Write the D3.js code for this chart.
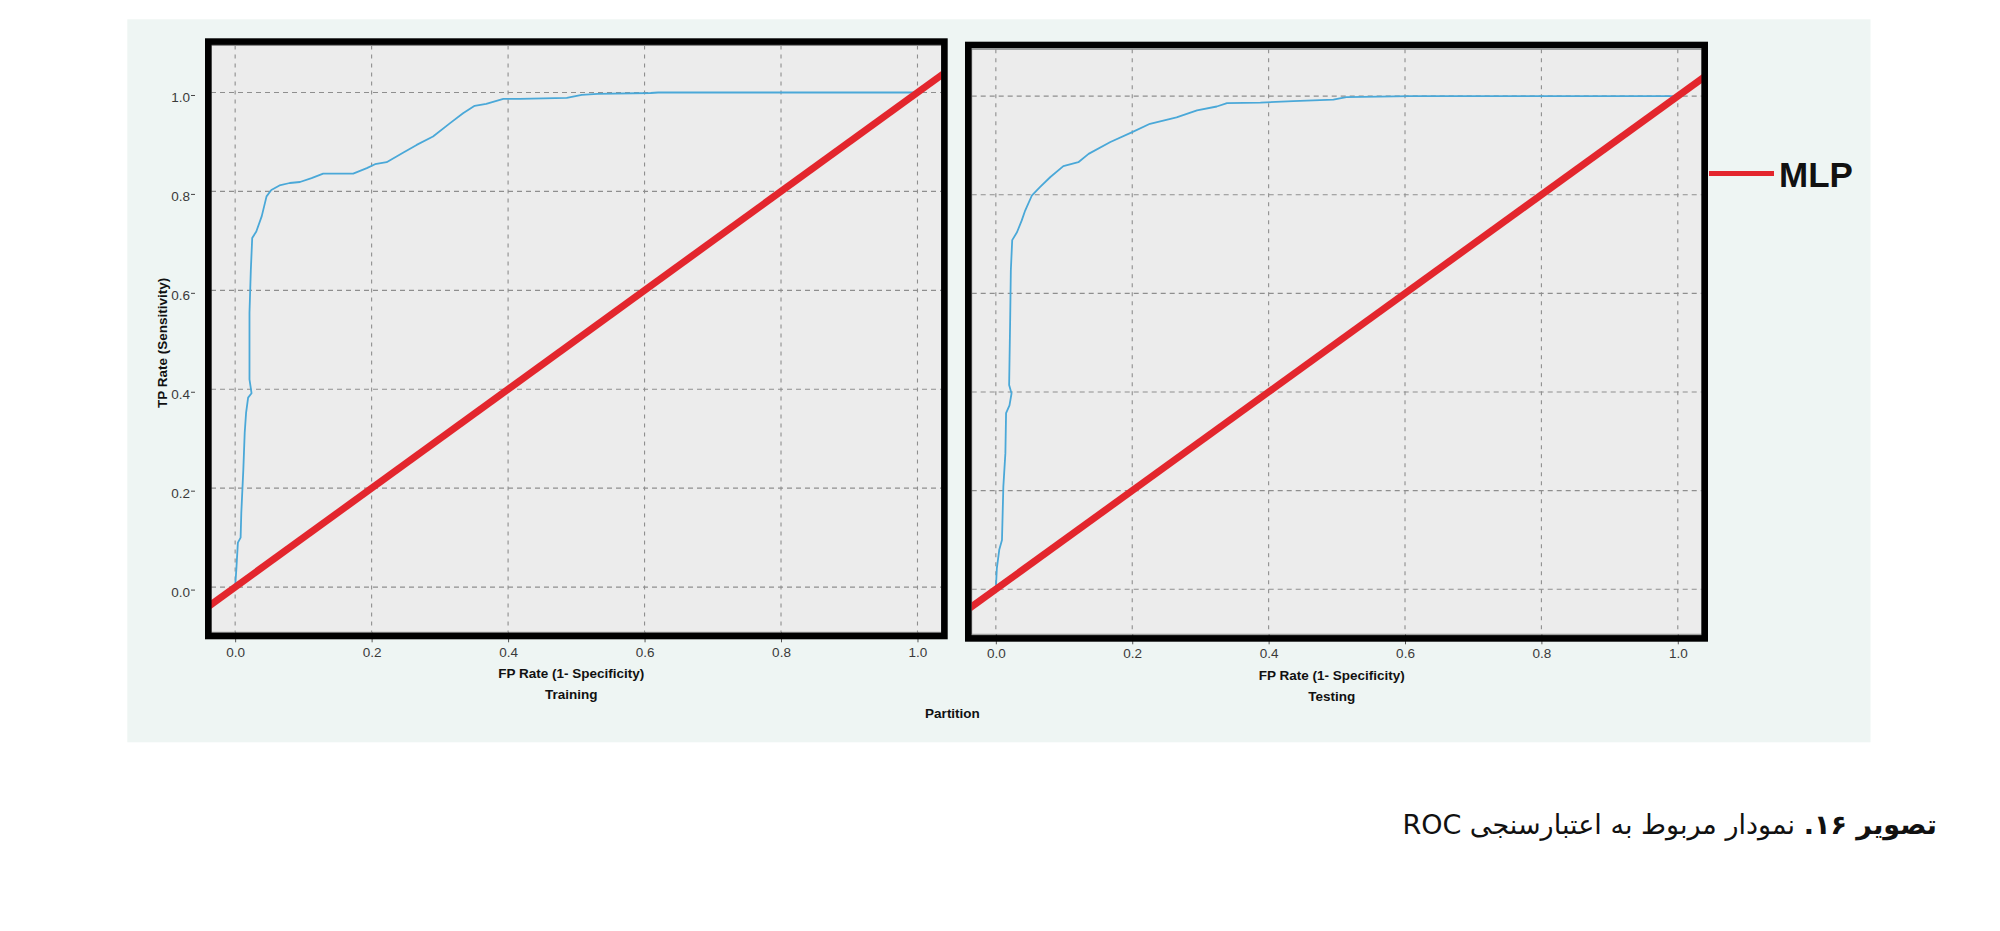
<!DOCTYPE html>
<html>
<head>
<meta charset="utf-8">
<script src="https://cdn.jsdelivr.net/npm/d3@7"></script>
<style>
  html, body { margin: 0; padding: 0; background: #ffffff; }
  svg { display: block; }
</style>
</head>
<body>
<svg id="chart" width="2000" height="931"></svg>
<script>
// ---------------- data ----------------
const tickValues = [0, 0.2, 0.4, 0.6, 0.8, 1.0];
const panelNames = ["Training", "Testing"];
const xAxisTitle = "FP Rate (1- Specificity)";
const yAxisTitle = "TP Rate (Sensitivity)";
const groupTitle = "Partition";
const legendLabel = "MLP";
const captionBold = "تصویر ۱۶.";
const captionRest = " نمودار مربوط به اعتبارسنجی ROC";

// ROC curve points [FP rate, TP rate]
const trainingCurve = [
  [0,0],[0.002,0.042],[0.004,0.09],[0.008,0.10],[0.009,0.15],[0.012,0.238],[0.014,0.312],
  [0.016,0.352],[0.019,0.383],[0.024,0.392],[0.021,0.42],[0.021,0.554],[0.023,0.642],
  [0.025,0.706],[0.031,0.719],[0.039,0.75],[0.046,0.79],[0.053,0.803],[0.065,0.812],
  [0.080,0.817],[0.095,0.819],[0.112,0.827],[0.129,0.836],[0.173,0.836],[0.193,0.847],
  [0.205,0.855],[0.222,0.859],[0.246,0.878],[0.266,0.894],[0.290,0.911],[0.315,0.938],
  [0.334,0.958],[0.351,0.973],[0.368,0.977],[0.393,0.987],[0.417,0.987],[0.486,0.989],
  [0.508,0.995],[0.531,0.997],[0.609,0.999],[0.62,1.0],[1.0,1.0]
];
const testingCurve = [
  [0,0],[0.0015,0.043],[0.005,0.08],[0.009,0.10],[0.010,0.154],[0.011,0.208],[0.014,0.276],
  [0.015,0.357],[0.020,0.373],[0.023,0.397],[0.0195,0.414],[0.021,0.546],[0.022,0.647],
  [0.024,0.708],[0.031,0.724],[0.038,0.748],[0.043,0.768],[0.053,0.799],[0.065,0.816],
  [0.080,0.836],[0.099,0.858],[0.121,0.866],[0.136,0.883],[0.168,0.907],[0.200,0.927],
  [0.226,0.944],[0.265,0.957],[0.295,0.971],[0.324,0.979],[0.339,0.986],[0.388,0.987],
  [0.436,0.990],[0.495,0.993],[0.514,0.998],[0.607,1.0],[1.0,1.0]
];
// reference (chance) diagonal
const diagonal = [[-0.2,-0.2],[1.2,1.2]];
const curves = [trainingCurve, testingCurve];

// ---------------- layout ----------------
const xDomain = [-0.0354, 1.0355];
const yDomain = [-0.0914, 1.095];
const layouts = [
  { inner: {x0:211, x1:941.7, y0:45.5, y1:632.3}, border: {x0:205, x1:947.7, y0:38.3, y1:639.3}, showY: true },
  { inner: {x0:971.7, x1:1702, y0:49.3, y1:634.3}, border: {x0:965, x1:1708, y0:41.7, y1:641.7}, showY: false }
];
const COL_BLUE = "#4aa8d8";
const COL_RED = "#e3262d";
const FONT = "'Liberation Sans', Arial, sans-serif";

const svg = d3.select("#chart");

// figure background
svg.append("rect")
  .attr("x", 127.3).attr("y", 19.3)
  .attr("width", 1870.5 - 127.3).attr("height", 742.3 - 19.3)
  .attr("fill", "#eef5f3");

const fmt = d3.format(".1f");

layouts.forEach((L, i) => {
  const inn = L.inner, b = L.border;
  const x = d3.scaleLinear().domain(xDomain).range([inn.x0, inn.x1]);
  const y = d3.scaleLinear().domain(yDomain).range([inn.y1, inn.y0]);
  const g = svg.append("g");

  // plot area
  g.append("rect")
    .attr("x", inn.x0).attr("y", inn.y0)
    .attr("width", inn.x1 - inn.x0).attr("height", inn.y1 - inn.y0)
    .attr("fill", "#ececec").attr("stroke", "#8a8a8a").attr("stroke-width", 1);

  const clipId = "clip" + i;
  svg.append("clipPath").attr("id", clipId)
    .append("rect")
    .attr("x", inn.x0).attr("y", inn.y0)
    .attr("width", inn.x1 - inn.x0).attr("height", inn.y1 - inn.y0);

  // grid lines
  g.selectAll(".vgrid").data(tickValues).join("line")
    .attr("x1", d => x(d)).attr("x2", d => x(d))
    .attr("y1", inn.y0).attr("y2", inn.y1)
    .attr("stroke", "#8e8e8e").attr("stroke-width", 1.1)
    .attr("stroke-dasharray", "4,5");
  g.selectAll(".hgrid").data(tickValues).join("line")
    .attr("y1", d => y(d)).attr("y2", d => y(d))
    .attr("x1", inn.x0).attr("x2", inn.x1)
    .attr("stroke", "#8e8e8e").attr("stroke-width", 1.1)
    .attr("stroke-dasharray", "5,4");

  const line = d3.line().x(d => x(d[0])).y(d => y(d[1]));
  const plotG = g.append("g").attr("clip-path", `url(#${clipId})`);

  // ROC curve
  plotG.append("path").datum(curves[i])
    .attr("d", line)
    .attr("fill", "none").attr("stroke", COL_BLUE).attr("stroke-width", 1.8)
    .attr("stroke-linejoin", "round");

  // diagonal red line
  plotG.append("path").datum(diagonal)
    .attr("d", line)
    .attr("fill", "none").attr("stroke", COL_RED).attr("stroke-width", 7);

  // bottom axis
  const xAxis = d3.axisBottom(x).tickValues(tickValues).tickFormat(fmt)
    .tickSize(10).tickPadding(inn.y1 > 633 ? 4.3 : 4.7);
  const xg = g.append("g").attr("transform", `translate(0,${inn.y1})`).call(xAxis);
  xg.select(".domain").remove();
  xg.selectAll(".tick line").attr("stroke", "#555");
  xg.selectAll("text").attr("font-family", FONT).attr("font-size", 13.5).attr("fill", "#3a3a3a");

  // left axis (only first panel)
  if (L.showY) {
    const yAxis = d3.axisLeft(y).tickValues(tickValues).tickFormat(fmt)
      .tickSize(4).tickPadding(1);
    const yg = g.append("g").attr("transform", `translate(195,2.5)`).call(yAxis);
    yg.select(".domain").remove();
    yg.selectAll(".tick line").attr("stroke", "#444");
    yg.selectAll("text").attr("font-family", FONT).attr("font-size", 13.5)
      .attr("fill", "#3a3a3a").attr("dy", "0.48em");

    svg.append("text")
      .attr("transform", `translate(166.5,${(inn.y0 + inn.y1) / 2 + 4}) rotate(-90)`)
      .attr("text-anchor", "middle")
      .attr("font-family", FONT).attr("font-weight", "bold").attr("font-size", 13.5)
      .attr("fill", "#111")
      .text(yAxisTitle);
  }

  // black highlight border
  const t = 6.6;
  g.append("rect")
    .attr("x", b.x0 + t / 2).attr("y", b.y0 + t / 2)
    .attr("width", b.x1 - b.x0 - t).attr("height", b.y1 - b.y0 - t)
    .attr("fill", "none").attr("stroke", "#000").attr("stroke-width", t);

  // axis titles
  const cx = (inn.x0 + inn.x1) / 2 - 5;
  g.append("text")
    .attr("x", cx).attr("y", inn.y1 + 46)
    .attr("text-anchor", "middle")
    .attr("font-family", FONT).attr("font-weight", "bold").attr("font-size", 13.5)
    .attr("fill", "#111")
    .text(xAxisTitle);
  g.append("text")
    .attr("x", cx).attr("y", inn.y1 + 67)
    .attr("text-anchor", "middle")
    .attr("font-family", FONT).attr("font-weight", "bold").attr("font-size", 13.5)
    .attr("fill", "#111")
    .text(panelNames[i]);
});

// group title
svg.append("text")
  .attr("x", 952.5).attr("y", 718.3)
  .attr("text-anchor", "middle")
  .attr("font-family", FONT).attr("font-weight", "bold").attr("font-size", 13.5)
  .attr("fill", "#111")
  .text(groupTitle);

// legend
const legendY = 173.5;
svg.append("line")
  .attr("x1", 1709).attr("x2", 1774)
  .attr("y1", legendY).attr("y2", legendY)
  .attr("stroke", COL_RED).attr("stroke-width", 5);
svg.append("text")
  .attr("x", 1779).attr("y", 186.7)
  .attr("font-family", FONT).attr("font-weight", "bold").attr("font-size", 35)
  .attr("fill", "#111")
  .text(legendLabel);

// caption (RTL)
const cap = svg.append("text")
  .attr("x", 1937).attr("y", 834)
  .attr("direction", "rtl")
  .attr("text-anchor", "start")
  .attr("font-family", "'DejaVu Sans', 'Noto Sans', sans-serif")
  .attr("font-size", 28)
  .attr("fill", "#111");
cap.append("tspan").attr("font-weight", "bold").text(captionBold);
cap.append("tspan").text(captionRest);
const w = cap.node().getComputedTextLength();
if (w > 0) {
  const fs = Math.max(18, Math.min(34, 28 * 535 / w));
  cap.attr("font-size", fs);
}
</script>
</body>
</html>
